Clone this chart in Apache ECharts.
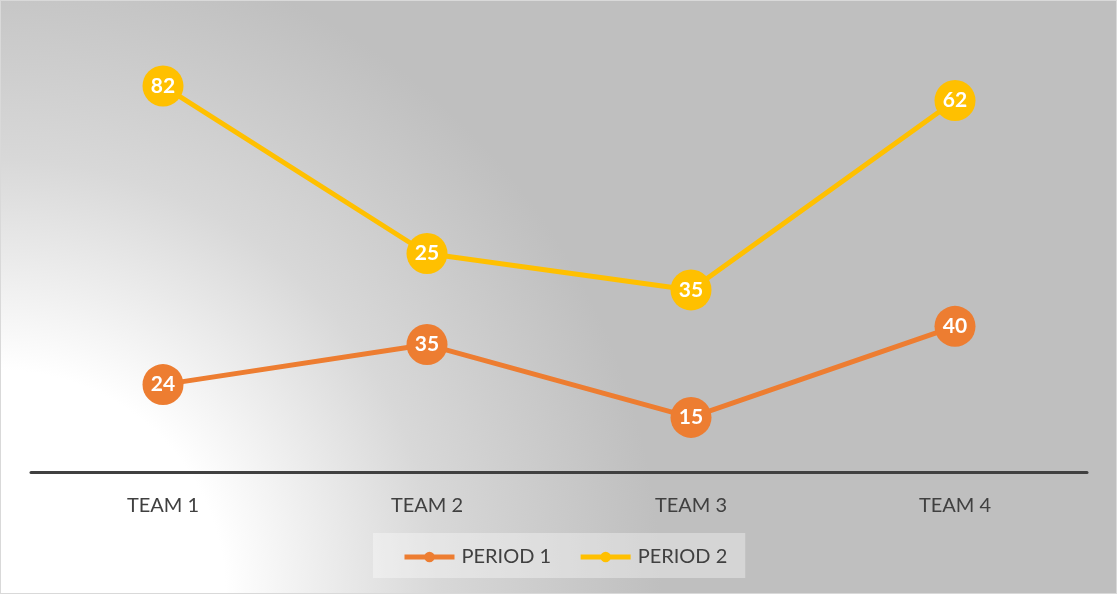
<!DOCTYPE html>
<html>
<head>
<meta charset="utf-8">
<script src="https://cdn.jsdelivr.net/npm/echarts@6/dist/echarts.min.js"></script>
<style>
  html, body { margin: 0; padding: 0; }
  #chart { width: 1117px; height: 594px; box-sizing: border-box; border: 1px solid #d9d9d9; }
</style>
</head>
<body>
<div id="chart"></div>
<script>
// Team categories and per-period scores (Period 2 is stacked on Period 1)
const teams = ['TEAM 1', 'TEAM 2', 'TEAM 3', 'TEAM 4'];
const period1 = [24, 35, 15, 40];
const period2 = [82, 25, 35, 62];
const seriesNames = ['PERIOD 1', 'PERIOD 2'];
const seriesColors = ['#ED7D31', '#FFC000'];

const chart = echarts.init(document.getElementById('chart'));

function lineSeries(name, data, color) {
  return {
    name: name,
    type: 'line',
    stack: 'total',
    data: data,
    symbol: 'circle',
    symbolSize: 41,
    itemStyle: { color: color },
    lineStyle: { color: color, width: 5 },
    label: {
      show: true,
      position: 'inside',
      color: '#ffffff',
      fontFamily: 'Lato',
      fontWeight: 'bold',
      fontSize: 21
    },
    emphasis: { disabled: true },
    animation: false
  };
}

chart.setOption({
  // white corner at the bottom left fading out to grey
  backgroundColor: {
    type: 'radial',
    global: true,
    x: 0, y: 594, r: 660,
    colorStops: [
      { offset: 0, color: '#ffffff' },
      { offset: 0.34, color: '#ffffff' },
      { offset: 0.66, color: '#d8d8d8' },
      { offset: 1, color: '#bfbfbf' }
    ]
  },
  textStyle: { fontFamily: 'Lato' },
  grid: { left: 30, right: 29, top: 34, bottom: 121 },
  legend: {
    left: 372,
    top: 532,
    padding: [14, 18, 11, 29],
    backgroundColor: 'rgba(255,255,255,0.35)',
    itemGap: 27,
    itemWidth: 50,
    itemHeight: 13,
    data: seriesNames,
    lineStyle: { width: 5 },
    textStyle: { color: '#404040', fontSize: 20, fontFamily: 'Lato', padding: [0, 0, 0, 2] }
  },
  xAxis: {
    type: 'category',
    data: teams,
    boundaryGap: true,
    axisLine: { lineStyle: { color: '#404040', width: 3 } },
    axisTick: { show: false },
    axisLabel: { color: '#404040', fontSize: 20, margin: 24, fontFamily: 'Lato' }
  },
  yAxis: {
    type: 'value',
    min: 0,
    max: 120,
    interval: 20,
    show: false
  },
  series: [
    lineSeries(seriesNames[0], period1, seriesColors[0]),
    lineSeries(seriesNames[1], period2, seriesColors[1])
  ]
});
</script>
</body>
</html>
